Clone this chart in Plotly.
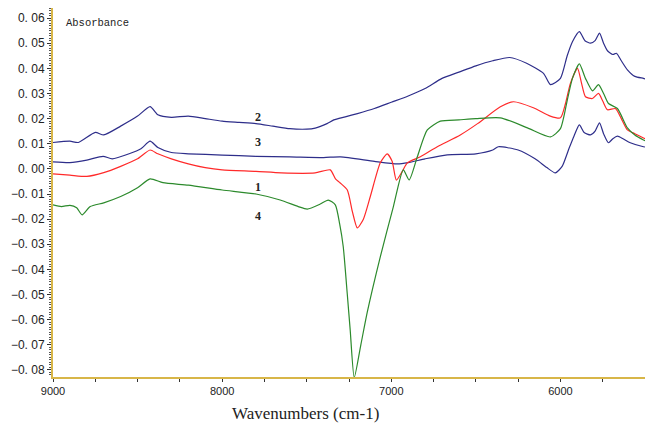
import plotly.graph_objects as go

# ---- data (wavenumber cm-1, absorbance) ----
wn_2 = [9000, 8900, 8850, 8750, 8700, 8600, 8500, 8426, 8380, 8300, 8200, 8100, 8000, 7900, 7800, 7700,
        7600, 7500, 7450, 7380, 7340, 7272, 7200, 7100, 7000, 6900, 6800, 6700, 6600, 6500, 6400, 6300,
        6200, 6100, 6059, 6000, 5960, 5929, 5888, 5855, 5822, 5795, 5769, 5745, 5722, 5690, 5669, 5640,
        5604, 5560, 5509, 5500]
ab_2 = [0.0105, 0.011, 0.0105, 0.0145, 0.0135, 0.017, 0.021, 0.0248, 0.0215, 0.0205, 0.021, 0.020, 0.019,
        0.0185, 0.018, 0.017, 0.016, 0.0158, 0.0162, 0.018, 0.0195, 0.0207, 0.022, 0.024, 0.0265, 0.029,
        0.032, 0.036, 0.0385, 0.041, 0.043, 0.0443, 0.042, 0.038, 0.0335, 0.036, 0.045, 0.0506, 0.0546,
        0.051, 0.050, 0.051, 0.054, 0.050, 0.047, 0.0455, 0.046, 0.043, 0.0394, 0.0368, 0.036, 0.0358]

wn_3 = [9000, 8900, 8800, 8704, 8650, 8550, 8480, 8426, 8380, 8300, 8200, 8000, 7800, 7600, 7400, 7300,
        7100, 6964, 6900, 6800, 6669, 6500, 6400, 6367, 6250, 6150, 6080, 6030, 5990, 5950, 5920, 5888,
        5860, 5822, 5795, 5769, 5745, 5716, 5690, 5663, 5630, 5587, 5509, 5500]
ab_3 = [0.0028, 0.0025, 0.0035, 0.005, 0.004, 0.006, 0.008, 0.011, 0.0085, 0.0065, 0.006, 0.0055, 0.005,
        0.0048, 0.0045, 0.0048, 0.003, 0.002, 0.0025, 0.004, 0.0056, 0.006, 0.0075, 0.0088, 0.0075, 0.004,
        0.0005, -0.0016, 0.001, 0.008, 0.013, 0.0175, 0.0145, 0.0135, 0.015, 0.0183, 0.014, 0.0104, 0.012,
        0.013, 0.012, 0.0104, 0.0088, 0.0087]

wn_1 = [9000, 8900, 8800, 8700, 8600, 8500, 8426, 8380, 8300, 8200, 8100, 8000, 7800, 7650, 7450, 7361,
        7330, 7302, 7260, 7230, 7201, 7165, 7124, 7065, 7024, 6995, 6970, 6935, 6905, 6828, 6728, 6592,
        6490, 6355, 6278, 6160, 6060, 6000, 5970, 5941, 5899, 5875, 5852, 5811, 5775, 5750, 5722, 5675,
        5640, 5604, 5560, 5509, 5500]
ab_1 = [-0.002, -0.0025, -0.003, -0.0015, 0.001, 0.004, 0.0075, 0.006, 0.004, 0.002, 0.0005, -0.0004,
        -0.001, -0.0016, -0.0016, -0.0004, -0.004, -0.0056, -0.0084, -0.017, -0.0235, -0.020, -0.011,
        0.0024, 0.006, 0.003, -0.0045, -0.001, 0.0024, 0.0048, 0.0088, 0.0135, 0.018, 0.0247, 0.0267,
        0.0243, 0.021, 0.0203, 0.026, 0.034, 0.040, 0.034, 0.0287, 0.028, 0.030, 0.027, 0.0235, 0.024,
        0.020, 0.0155, 0.014, 0.0123, 0.012]

wn_4 = [9000, 8950, 8900, 8860, 8828, 8780, 8700, 8600, 8500, 8426, 8350, 8200, 8000, 7800, 7657, 7550,
        7497, 7420, 7373, 7331, 7305, 7284, 7260, 7243, 7219, 7180, 7142, 7065, 6988, 6929, 6894, 6846,
        6787, 6710, 6600, 6500, 6355, 6195, 6059, 6000, 5959, 5929, 5888, 5852, 5810, 5775, 5745, 5716,
        5663, 5604, 5560, 5509, 5500]
ab_4 = [-0.0143, -0.015, -0.0145, -0.0155, -0.0183, -0.015, -0.0135, -0.011, -0.0075, -0.004, -0.0055,
        -0.0065, -0.0084, -0.010, -0.0124, -0.015, -0.016, -0.014, -0.0124, -0.0143, -0.022, -0.031,
        -0.050, -0.064, -0.083, -0.070, -0.057, -0.035, -0.0151, -0.0004, -0.0044, 0.0048, 0.0155, 0.019,
        0.0195, 0.020, 0.0203, 0.0163, 0.0127, 0.016, 0.0275, 0.036, 0.0418, 0.036, 0.031, 0.0335, 0.030,
        0.026, 0.024, 0.0163, 0.0135, 0.0115, 0.0112]

curve_labels = ["2", "3", "1", "4"]
label_wn = [7787, 7787, 7787, 7787]
label_ab = [0.0206, 0.0105, -0.0072, -0.0188]

y_ticks = [0.06, 0.05, 0.04, 0.03, 0.02, 0.01, 0.0, -0.01, -0.02, -0.03, -0.04, -0.05, -0.06, -0.07, -0.08]
y_ticktext = ["0. 06", "0. 05", "0. 04", "0. 03", "0. 02", "0. 01", "0. 00", "\u22120. 01", "\u22120. 02",
              "\u22120. 03", "\u22120. 04", "\u22120. 05", "\u22120. 06", "\u22120. 07", "\u22120. 08"]
x_ticks = [9000, 8000, 7000, 6000]

NAVY = "#2E2E8A"
RED = "#FF2A2A"
GREEN = "#2C8A2C"
GOLD = "#D8B648"

fig = go.Figure()
for wn, ab, col in [(wn_2, ab_2, NAVY), (wn_3, ab_3, NAVY), (wn_1, ab_1, RED), (wn_4, ab_4, GREEN)]:
    fig.add_trace(go.Scatter(x=wn, y=ab, mode="lines",
                             line=dict(color=col, width=1.2, shape="spline", smoothing=0.6),
                             showlegend=False, hoverinfo="skip"))

for t, xv, yv in zip(curve_labels, label_wn, label_ab):
    fig.add_annotation(x=xv, y=yv, text=t, showarrow=False, xref="x", yref="y",
                       font=dict(family="Liberation Serif", size=12, color="#222", weight="bold"))

fig.add_annotation(text="Absorbance", xref="paper", yref="paper", x=0.019, y=0.959, xanchor="left",
                   yanchor="middle", showarrow=False,
                   font=dict(family="Liberation Mono", size=10.5, color="#222"))
fig.add_annotation(text="Wavenumbers (cm-1)", xref="paper", yref="paper", x=0.426, y=-0.100,
                   xanchor="center", yanchor="middle", showarrow=False,
                   font=dict(family="Liberation Serif", size=17, color="#222"))

fig.update_xaxes(range=[9000, 5500], tickvals=x_ticks, ticks="outside", ticklen=3, tickcolor="#333",
                 showline=True, linecolor=GOLD, linewidth=2, showgrid=False, zeroline=False,
                 tickfont=dict(family="Liberation Sans", size=11, color="#222"),
                 minor=dict(dtick=250, ticks="outside", ticklen=3, tickcolor="#333"))
fig.update_yaxes(range=[-0.0828, 0.064], tickvals=y_ticks, ticktext=y_ticktext, ticks="outside",
                 ticklen=4, tickcolor="#333", showline=True, linecolor=GOLD, linewidth=2,
                 showgrid=False, zeroline=False,
                 tickfont=dict(family="Liberation Sans", size=12, color="#222"),
                 minor=dict(dtick=0.001, tick0=0, ticks="outside", ticklen=2, tickcolor="#555"))

fig.update_layout(width=645, height=427, margin=dict(l=53, r=0, t=8, b=50),
                  plot_bgcolor="white", paper_bgcolor="white")

fig.write_html("out.html")
